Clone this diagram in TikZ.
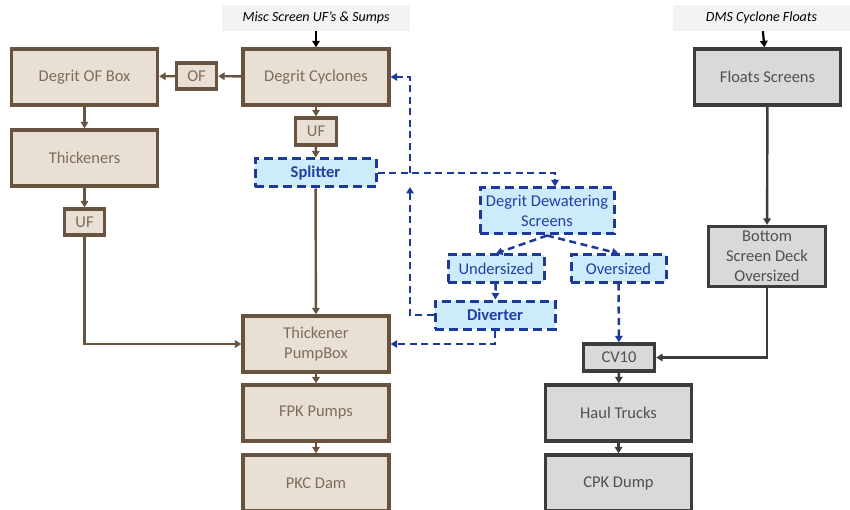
\documentclass[tikz,border=0pt]{standalone}
\usepackage{fontspec}
\setmainfont{Carlito}
\usetikzlibrary{arrows.meta}

\definecolor{brfill}{RGB}{232,223,213}
\definecolor{brline}{RGB}{104,84,62}
\definecolor{brtext}{RGB}{128,108,88}
\definecolor{gyfill}{RGB}{217,217,217}
\definecolor{gyline}{RGB}{60,60,60}
\definecolor{gytext}{RGB}{80,80,80}
\definecolor{blfill}{RGB}{206,235,252}
\definecolor{blline}{RGB}{28,58,155}
\definecolor{bltext}{RGB}{32,64,165}
\definecolor{lbfill}{RGB}{243,243,243}

\tikzset{
  tip/.style={-{Triangle[length=6.5pt,width=7.5pt]}},
  boxfont/.style={font=\fontsize{16.5}{20}\selectfont},
  brbox/.style={draw=brline, fill=brfill, line width=3.3pt, text=brtext,
    boxfont, align=center, inner sep=0pt},
  gybox/.style={draw=gyline, fill=gyfill, line width=3.3pt, text=gytext,
    boxfont, align=center, inner sep=0pt},
  blbox/.style={draw=blline, fill=blfill, line width=3pt, text=bltext,
    dash pattern=on 9pt off 5pt,
    boxfont, align=center, inner sep=0pt},
  srcbox/.style={fill=lbfill, font=\itshape\fontsize{14}{17}\selectfont,
    text=black, inner sep=0pt},
  brflow/.style={tip, draw=brline, line width=2.4pt},
  gyflow/.style={tip, draw=gyline, line width=2.4pt},
  bkflow/.style={tip, draw=black, line width=2.2pt},
  blflow/.style={tip, draw=blline, line width=2.5pt, dash pattern=on 7pt off 4.5pt},
  sz/.style 2 args={minimum width=#1pt, minimum height=#2pt},
}

\begin{document}
\begin{tikzpicture}[x=1pt,y=-1pt]
  \useasboundingbox (0,0) rectangle (850,510);

  % feed labels
  \node[srcbox, sz={188}{26}] (misc) at (316,18) {Misc Screen UF’s \& Sumps};
  \node[srcbox, sz={177}{26}] (dms) at (761.5,18) {DMS Cyclone Floats};

  % degrit / thickener circuit
  \node[brbox, sz={146}{56}] (cyc) at (316,77) {Degrit Cyclones};
  \node[brbox, sz={40}{26}] (of) at (196.5,76) {OF};
  \node[brbox, sz={146}{56}] (ofbox) at (84.5,77) {Degrit OF Box};
  \node[brbox, sz={146}{56}] (thick) at (84.5,158) {Thickeners};
  \node[brbox, sz={40}{26}] (uftk) at (84.5,222) {UF};
  \node[brbox, sz={41}{27}] (ufcy) at (316,131.5) {UF};
  \node[brbox, sz={146}{56}] (tpb) at (316,344) {Thickener\\PumpBox};
  \node[brbox, sz={146}{56}] (fpk) at (316,413) {FPK Pumps};
  \node[brbox, sz={146}{56}] (pkc) at (316,483) {PKC Dam};

  % dewatering screens circuit
  \node[blbox, sz={121}{28}, font=\bfseries\fontsize{16.5}{20}\selectfont] (split) at (315.5,173) {Splitter};
  \node[blbox, sz={134}{46}] (dews) at (547,211) {Degrit Dewatering\\Screens};
  \node[blbox, sz={96}{27}] (under) at (496,268.5) {Undersized};
  \node[blbox, sz={95}{27}] (over) at (618.5,268.5) {Oversized};
  \node[blbox, sz={120}{28}, font=\bfseries\fontsize{16.5}{20}\selectfont] (div) at (495,315) {Diverter};

  % floats circuit
  \node[gybox, sz={146}{56}] (floats) at (767.5,77) {Floats Screens};
  \node[gybox, sz={117}{60}] (bsd) at (767,256.5) {Bottom\\Screen Deck\\Oversized};
  \node[gybox, sz={71}{27}] (cv) at (619,357.5) {CV10};
  \node[gybox, sz={146}{56}] (haul) at (618.5,413) {Haul Trucks};
  \node[gybox, sz={146}{56}] (cpk) at (618.5,483) {CPK Dump};

  % feeds
  \draw[bkflow] (misc) -- (cyc);
  \draw[bkflow] (dms) -- (floats);

  % brown flows
  \draw[brflow] (cyc) -- (of);
  \draw[brflow] (of) -- (ofbox);
  \draw[brflow] (ofbox) -- (thick);
  \draw[brflow] (thick) -- (uftk);
  \draw[brflow] (uftk.south) |- (tpb.west);
  \draw[brflow] (cyc) -- (ufcy);
  \draw[brflow] (ufcy) -- (split);
  \draw[brflow] (split) -- (tpb);
  \draw[brflow] (tpb) -- (fpk);
  \draw[brflow] (fpk) -- (pkc);

  % grey flows
  \draw[gyflow] (floats) -- (bsd);
  \draw[gyflow] (bsd.south) |- (cv.east);
  \draw[gyflow] (cv) -- (haul);
  \draw[gyflow] (haul) -- (cpk);

  % dashed blue flows
  \coordinate (sd) at (555,173);
  \coordinate (rvup) at (410,173);
  \coordinate (rvlow) at (410,187);
  \draw[blflow] (split.east) -- (sd) -- (sd |- dews.north);
  \draw[blflow] (dews.south) -- (under.north);
  \draw[blflow] (dews.south) -- (over.north);
  \draw[blflow] (under) -- (div);
  \draw[blflow] (div.west) -| (rvlow);
  \draw[blflow] (rvup) |- (cyc.east);
  \draw[blflow] (div.south) |- (tpb.east);
  \draw[blflow] (over) -- (cv);
\end{tikzpicture}
\end{document}
